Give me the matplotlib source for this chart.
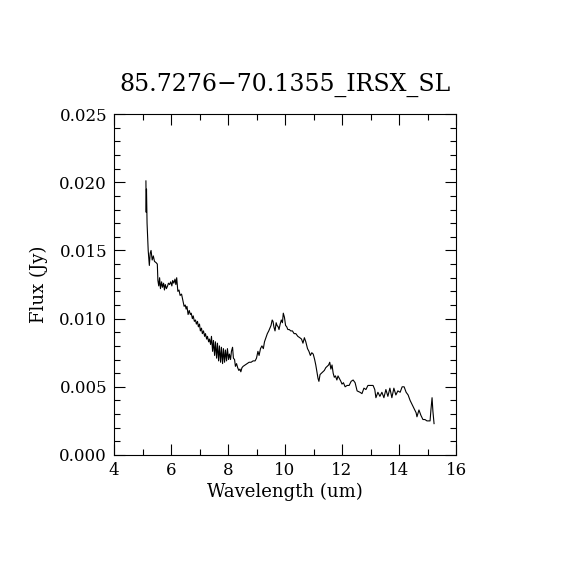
import numpy as np
import matplotlib
matplotlib.use('Agg')
import matplotlib.pyplot as plt
from matplotlib.ticker import MultipleLocator, FormatStrFormatter

# spectrum
wave = [5.12, 5.13, 5.14, 5.15, 5.16, 5.20, 5.24, 5.27, 5.30, 5.34, 5.38, 5.42, 5.48, 5.52,
        5.54, 5.57, 5.60, 5.63, 5.67, 5.70, 5.74, 5.77, 5.80, 5.84, 5.88, 5.91, 5.95, 5.99,
        6.03, 6.06, 6.10, 6.14, 6.17, 6.20, 6.24, 6.28, 6.32, 6.37, 6.42, 6.46, 6.50, 6.53,
        6.56, 6.60, 6.64, 6.68, 6.71, 6.75, 6.78, 6.82, 6.86, 6.89, 6.93, 6.96, 7.00, 7.03,
        7.07, 7.10, 7.14, 7.18, 7.21, 7.25, 7.28, 7.32, 7.35, 7.39, 7.42, 7.46, 7.49, 7.53,
        7.56, 7.60, 7.63, 7.67, 7.70, 7.74, 7.77, 7.81, 7.84, 7.88, 7.91, 7.95, 7.98, 8.02,
        8.05, 8.09, 8.12, 8.16, 8.19, 8.23, 8.26, 8.30, 8.34, 8.38, 8.42, 8.45, 8.49, 8.53,
        8.60, 8.67, 8.74, 8.81, 8.88, 8.95, 9.00, 9.05, 9.09, 9.14, 9.19, 9.24, 9.28, 9.33,
        9.38, 9.43, 9.47, 9.51, 9.55, 9.58, 9.61, 9.65, 9.69, 9.72, 9.76, 9.79, 9.83, 9.87,
        9.91, 9.94, 9.98, 10.02, 10.06, 10.10, 10.15, 10.20, 10.26, 10.32, 10.38, 10.45,
        10.52, 10.58, 10.63, 10.68, 10.73, 10.79, 10.84, 10.89, 10.94, 10.99, 11.04, 11.08,
        11.12, 11.16, 11.19, 11.23, 11.28, 11.33, 11.38, 11.43, 11.48, 11.53, 11.57, 11.61,
        11.65, 11.69, 11.73, 11.77, 11.82, 11.86, 11.91, 11.96, 12.00, 12.05, 12.11, 12.18,
        12.25, 12.32, 12.39, 12.46, 12.53, 12.63, 12.70, 12.77, 12.84, 12.91, 13.02, 13.09,
        13.15, 13.19, 13.26, 13.33, 13.40, 13.47, 13.54, 13.61, 13.68, 13.75, 13.82, 13.89,
        13.96, 14.04, 14.11, 14.18, 14.25, 14.32, 14.39, 14.46, 14.53, 14.60, 14.63, 14.70,
        14.77, 14.84, 14.91, 14.98, 15.09, 15.12, 15.16, 15.19, 15.23]
flux = [0.0201, 0.0178, 0.0195, 0.0180, 0.0170, 0.0150, 0.0139, 0.0148, 0.0150, 0.0143, 0.0146,
        0.0142, 0.0141, 0.0140, 0.0128, 0.0124, 0.0130, 0.0122, 0.0127, 0.0123, 0.0126, 0.0121,
        0.0125, 0.0122, 0.0124, 0.0126, 0.0125, 0.0127, 0.0124, 0.0128, 0.0126, 0.0129, 0.0125,
        0.0130, 0.0120, 0.0121, 0.0117, 0.0118, 0.0113, 0.0109, 0.0110, 0.0107, 0.0109, 0.0103,
        0.0106, 0.0103, 0.0104, 0.0100, 0.0102, 0.0098, 0.0099, 0.0096, 0.0098, 0.0094, 0.0096,
        0.0091, 0.0093, 0.0089, 0.0091, 0.0087, 0.0089, 0.0085, 0.0087, 0.0083, 0.0085, 0.0081,
        0.0087, 0.0076, 0.0084, 0.0073, 0.0083, 0.0071, 0.0082, 0.0069, 0.0080, 0.0068, 0.0079,
        0.0067, 0.0078, 0.0068, 0.0077, 0.0069, 0.0078, 0.0070, 0.0074, 0.0070, 0.0076, 0.0079,
        0.0071, 0.0070, 0.0065, 0.0067, 0.0064, 0.0062, 0.0063, 0.0061, 0.0064, 0.0065, 0.0066,
        0.0067, 0.0068, 0.0068, 0.0069, 0.0069, 0.0071, 0.0076, 0.0073, 0.0078, 0.0080, 0.0078,
        0.0083, 0.0086, 0.0089, 0.0091, 0.0093, 0.0095, 0.0099, 0.0098, 0.0094, 0.0091, 0.0097,
        0.0095, 0.0094, 0.0092, 0.0096, 0.0099, 0.0097, 0.0104, 0.0101, 0.0095, 0.0094, 0.0092,
        0.0092, 0.0091, 0.0091, 0.0089, 0.0089, 0.0087, 0.0086, 0.0085, 0.0082, 0.0086, 0.0083,
        0.0078, 0.0076, 0.0073, 0.0075, 0.0074, 0.0070, 0.0066, 0.0061, 0.0056, 0.0054, 0.0059,
        0.0060, 0.0061, 0.0062, 0.0064, 0.0065, 0.0066, 0.0068, 0.0063, 0.0066, 0.0060, 0.0057,
        0.0058, 0.0055, 0.0058, 0.0056, 0.0054, 0.0052, 0.0053, 0.0050, 0.0051, 0.0051, 0.0054,
        0.0055, 0.0053, 0.0047, 0.0046, 0.0045, 0.0049, 0.0048, 0.0051, 0.0051, 0.0051, 0.0048,
        0.0042, 0.0046, 0.0043, 0.0046, 0.0042, 0.0048, 0.0043, 0.0049, 0.0042, 0.0049, 0.0044,
        0.0047, 0.0046, 0.0050, 0.0050, 0.0046, 0.0044, 0.0040, 0.0037, 0.0034, 0.0031, 0.0028,
        0.0033, 0.0029, 0.0026, 0.0026, 0.0025, 0.0025, 0.0033, 0.0042, 0.0032, 0.0023]

plt.rcParams['font.family'] = ['DejaVu Serif']

fig = plt.figure(figsize=(5.7, 5.7), dpi=100)
ax = fig.add_axes([0.2, 0.2018, 0.6, 0.598])
ax.plot(wave, flux, color='black', lw=0.8)

ax.set_xlim(4, 16)
ax.set_ylim(0, 0.025)
ax.xaxis.set_major_locator(MultipleLocator(2))
ax.xaxis.set_minor_locator(MultipleLocator(1))
ax.yaxis.set_major_locator(MultipleLocator(0.005))
ax.yaxis.set_minor_locator(MultipleLocator(0.001))
ax.yaxis.set_major_formatter(FormatStrFormatter('%.3f'))
ax.tick_params(which='both', direction='in', top=True, right=True, width=0.8, labelsize=12)
ax.tick_params(which='major', length=8, pad=5)
ax.tick_params(which='minor', length=4)
for s in ax.spines.values():
    s.set_linewidth(0.8)

ax.set_xlabel('Wavelength (um)', fontsize=13, labelpad=3)
ax.set_ylabel('Flux (Jy)', fontsize=13, labelpad=8)
fig.text(0.5, 0.851, '85.7276\u221270.1355_IRSX_SL', ha='center', va='center', fontsize=17)

fig.savefig('out.png', dpi=100)
